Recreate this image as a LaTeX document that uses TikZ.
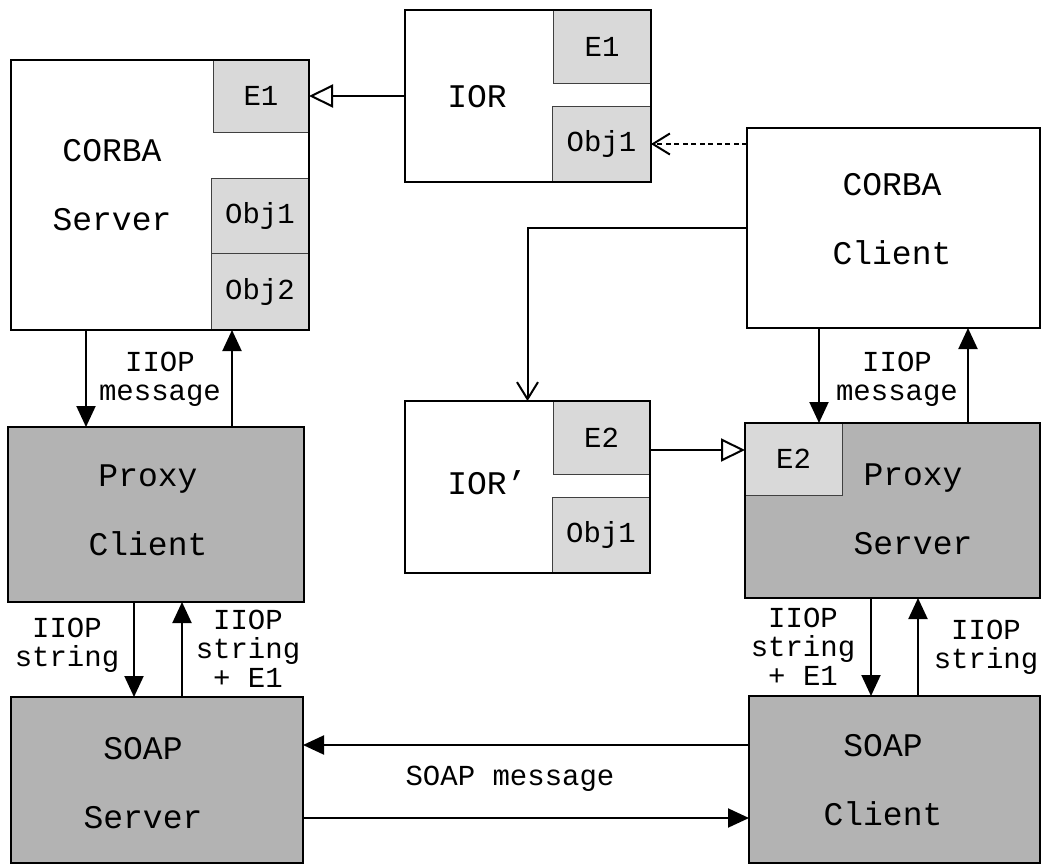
\documentclass[tikz,border=0pt]{standalone}
\usepackage{fontspec}
\usepackage{tikz}
\usetikzlibrary{calc,arrows.meta}

\newfontfamily\monofont{Liberation Mono}
\definecolor{boxgray}{HTML}{B3B3B3}
\definecolor{slotgray}{HTML}{D9D9D9}
\definecolor{slotline}{HTML}{404040}

\tikzset{
  mainbox/.style={inner sep=0pt, outer sep=0pt, fill=white},
  graybox/.style={mainbox, fill=boxgray},
  slot/.style={draw=slotline, line width=1pt, fill=slotgray, inner sep=0pt,
    outer sep=0pt, font=\monofont\fontsize{29}{29}\selectfont},
  biglabel/.style={align=center, font=\monofont\fontsize{33}{69}\selectfont},
  msglabel/.style={align=center, font=\monofont\fontsize{29}{29}\selectfont},
  flow/.style={line width=2pt, -{Triangle[length=21pt,width=19pt]}},
  refto/.style={line width=2pt, -{Straight Barb[length=17pt,width=21pt]}},
  holds/.style={line width=2pt, -{Triangle[open,length=24pt,width=23pt]}}
}

\begin{document}
\begin{tikzpicture}[x=1pt,y=-1pt]
  \useasboundingbox (0,0) rectangle (1042,865);

  %% Component boxes
  \node[mainbox, minimum width=298, minimum height=270] (corbaSrv) at (160,195) {};
  \node[mainbox, minimum width=246, minimum height=172] (ior)      at (528,96)  {};
  \node[mainbox, minimum width=293, minimum height=200] (corbaCli) at (893.5,228) {};
  \node[mainbox, minimum width=245, minimum height=172] (iorB)     at (527.5,487) {};
  \node[graybox, minimum width=296, minimum height=175] (proxyCli) at (156,514.5) {};
  \node[graybox, minimum width=295, minimum height=175] (proxySrv) at (892.5,510.5) {};
  \node[graybox, minimum width=292, minimum height=166] (soapSrv)  at (157,780) {};
  \node[graybox, minimum width=291, minimum height=167] (soapCli)  at (894.5,779.5) {};

  %% Slots inside the boxes
  \node[slot, anchor=north east, minimum width=96, minimum height=72] (srvE1)   at (corbaSrv.north east) {E1};
  \node[slot, anchor=south east, minimum width=98, minimum height=77] (srvObj2) at (corbaSrv.south east) {Obj2};
  \node[slot, anchor=south east, minimum width=98, minimum height=75] (srvObj1) at (srvObj2.north east)  {Obj1};
  \node[slot, anchor=north east, minimum width=98, minimum height=73] (iorE1)   at (ior.north east)      {E1};
  \node[slot, anchor=south east, minimum width=99, minimum height=76] (iorObj1) at (ior.south east)      {Obj1};
  \node[slot, anchor=north east, minimum width=97, minimum height=73] (iorBE2)  at (iorB.north east)     {E2};
  \node[slot, anchor=south east, minimum width=98, minimum height=76] (iorBObj1) at (iorB.south east)    {Obj1};
  \node[slot, anchor=north west, minimum width=97, minimum height=72] (pxyE2)   at (proxySrv.north west) {E2};

  %% Outlines drawn over the slots
  \foreach \b in {corbaSrv,ior,corbaCli,iorB,proxyCli,proxySrv,soapSrv,soapCli}
    \draw[line width=2pt] (\b.south west) rectangle (\b.north east);

  %% Box names
  \node[biglabel] (tCorbaSrv) at (112,185) {CORBA\\Server};
  \node[biglabel] (tIor)      at (477,97)  {IOR};
  \node[biglabel] (tCorbaCli) at (892,219) {CORBA\\Client};
  \node[biglabel] (tIorB)     at (487,483) {IOR’};
  \node[biglabel] (tProxyCli) at (148,510) {Proxy\\Client};
  \node[biglabel] (tProxySrv) at (913,509) {Proxy\\Server};
  \node[biglabel] (tSoapSrv)  at (143,783) {SOAP\\Server};
  \node[biglabel] (tSoapCli)  at (883,780) {SOAP\\Client};

  %% Lanes for the vertical and horizontal messages
  \foreach \n/\x in {lA/86,lB/232,lC/134,lD/182,lE/819,lF/968,lG/871,lH/918}
    \coordinate (\n) at (\x,0);
  \coordinate (hA) at (0,745);
  \coordinate (hB) at (0,818);
  \coordinate (hE2) at (0,450);

  %% IIOP traffic
  \draw[flow] (lA |- corbaSrv.south) -- (lA |- proxyCli.north);
  \draw[flow] (lB |- proxyCli.north) -- (lB |- corbaSrv.south);
  \draw[flow] (lC |- proxyCli.south) -- (lC |- soapSrv.north);
  \draw[flow] (lD |- soapSrv.north)  -- (lD |- proxyCli.south);
  \draw[flow] (lE |- corbaCli.south) -- (lE |- proxySrv.north);
  \draw[flow] (lF |- proxySrv.north) -- (lF |- corbaCli.south);
  \draw[flow] (lG |- proxySrv.south) -- (lG |- soapCli.north);
  \draw[flow] (lH |- soapCli.north)  -- (lH |- proxySrv.south);

  %% SOAP traffic
  \draw[flow] (soapCli.west |- hA) -- (soapSrv.east |- hA);
  \draw[flow] (soapSrv.east |- hB) -- (soapCli.west |- hB);

  %% References
  \draw[holds] (ior.west) -- (srvE1.east);
  \draw[holds] (iorBE2.east |- hE2) -- (proxySrv.west |- hE2);
  \draw[refto, dash pattern=on 5pt off 3.5pt] (corbaCli.west |- iorObj1.east) -- (iorObj1.east);
  \draw[refto] (corbaCli.west) -| (iorB.north);

  %% Message labels
  \node[msglabel] (mLeftTop)   at (160,379) {IIOP\\message};
  \node[msglabel] (mRightTop)  at (897,379) {IIOP\\message};
  \node[msglabel] (mLeftDown)  at (67,645)  {IIOP\\string};
  \node[msglabel] (mLeftUp)    at (248,649) {IIOP\\string\\+ E1};
  \node[msglabel] (mRightDown) at (803,647) {IIOP\\string\\+ E1};
  \node[msglabel] (mRightUp)   at (986,647) {IIOP\\string};
  \node[msglabel] (mSoap)      at (510,779) {SOAP message};
\end{tikzpicture}
\end{document}
